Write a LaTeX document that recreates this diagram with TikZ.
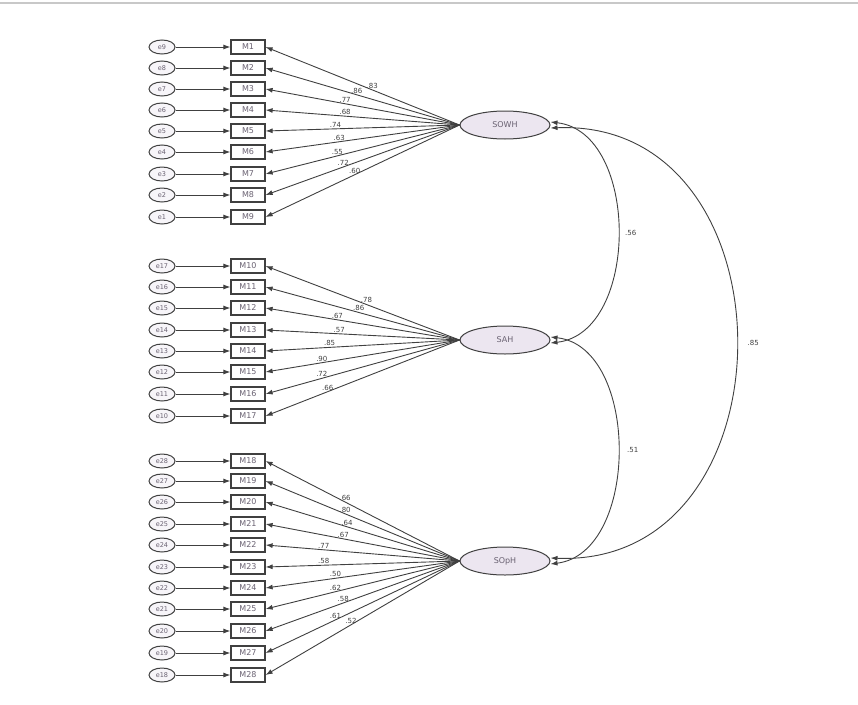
\documentclass[tikz,border=0pt]{standalone}
\usepackage{fontspec}
\setmainfont{DejaVu Sans}
\usepackage{tikz}
\usetikzlibrary{shapes.geometric,arrows.meta}
\definecolor{latentfill}{HTML}{ECE6F0}
\definecolor{linegray}{HTML}{404040}
\definecolor{textgray}{HTML}{6A6272}
\definecolor{rulegray}{HTML}{C8C8C8}

\tikzset{
  latent/.style={ellipse, draw=linegray, fill=latentfill, line width=1pt,
    minimum width=90pt, minimum height=28pt, inner sep=0pt,
    font=\fontsize{8}{9}\selectfont, text=textgray},
  indic/.style={rectangle, draw=linegray, fill=white, line width=1.2pt,
    minimum width=34pt, minimum height=14pt, inner sep=0pt,
    font=\fontsize{8}{9}\selectfont, text=textgray},
  errv/.style={ellipse, draw=linegray, fill=latentfill!40, line width=1pt,
    minimum width=26pt, minimum height=14pt, inner sep=0pt,
    font=\fontsize{6.5}{7}\selectfont, text=textgray},
  path/.style={draw=linegray, line width=0.9pt, -{Latex[length=7pt,width=5pt]}},
  covpath/.style={draw=linegray, line width=0.9pt,
    {Latex[length=7pt,width=5pt]}-{Latex[length=7pt,width=5pt]}},
  weight/.style={font=\fontsize{7}{8}\selectfont, text=linegray, inner sep=1pt}
}

\begin{document}
\begin{tikzpicture}[x=1pt, y=-1pt]
  \useasboundingbox (0,0) rectangle (858,704);
  \draw[rulegray, line width=2pt] (0,3) -- (858,3);

  % latent factors
  \node[latent] (SOWH) at (505,125) {SOWH};
  \node[latent] (SAH)  at (505,340) {SAH};
  \node[latent] (SOpH) at (505,561) {SOpH};

  % SOWH items
  \foreach \i/\y/\e/\w/\p in {1/47/9/.83/0.45, 2/68/8/.86/0.53,
      3/89/7/.77/0.59, 4/110/6/.68/0.59, 5/131/5/.74/0.64,
      6/152/4/.63/0.62, 7/174/3/.55/0.63, 8/195/2/.72/0.60,
      9/217/1/.60/0.54} {
    \node[indic] (M\i) at (248,\y) {M\i};
    \node[errv] (e\e) at (162,\y) {e\e};
    \draw[path] (e\e) -- (M\i);
    \draw[path] (SOWH.west) -- (M\i.east) node[weight, above, pos=\p] {\w};
  }

  % SAH items
  \foreach \i/\y/\e/\w/\p in {10/266/17/.78/0.48, 11/287/16/.86/0.52,
      12/308/15/.67/0.63, 13/330/14/.57/0.62, 14/351/13/.85/0.67,
      15/372/12/.90/0.71, 16/394/11/.72/0.71, 17/416/10/.66/0.68} {
    \node[indic] (M\i) at (248,\y) {M\i};
    \node[errv] (e\e) at (162,\y) {e\e};
    \draw[path] (e\e) -- (M\i);
    \draw[path] (SAH.west) -- (M\i.east) node[weight, above, pos=\p] {\w};
  }

  % SOpH items
  \foreach \i/\y/\e/\w/\p in {18/461/28/.66/0.59, 19/481/27/.80/0.59,
      20/502/26/.64/0.58, 21/524/25/.67/0.60, 22/545/24/.77/0.70,
      23/567/23/.58/0.70, 24/588/22/.50/0.64, 25/609/21/.62/0.64,
      26/631/20/.58/0.60, 27/653/19/.61/0.64, 28/675/18/.52/0.56} {
    \node[indic] (M\i) at (248,\y) {M\i};
    \node[errv] (e\e) at (162,\y) {e\e};
    \draw[path] (e\e) -- (M\i);
    \draw[path] (SOpH.west) -- (M\i.east) node[weight, above, pos=\p] {\w};
  }

  % covariances
  \coordinate (c1a) at ([yshift=-3pt]SOWH.east);
  \coordinate (c1b) at ([yshift=3pt]SOWH.east);
  \coordinate (c2a) at ([yshift=-3pt]SAH.east);
  \coordinate (c2b) at ([yshift=3pt]SAH.east);
  \coordinate (c3a) at ([yshift=-3pt]SOpH.east);
  \coordinate (c3b) at ([yshift=3pt]SOpH.east);
  \draw[covpath] (c1b) .. controls (640,132) and (640,333) .. (c2a)
    node[weight, pos=0.5, right=6pt] {.56};
  \draw[covpath] (c2b) .. controls (640,347) and (640,553) .. (c3a)
    node[weight, pos=0.5, right=8pt] {.51};
  \draw[covpath] (c1a) .. controls (798,118) and (798,568) .. (c3b)
    node[weight, pos=0.5, right=10pt] {.85};
\end{tikzpicture}
\end{document}
